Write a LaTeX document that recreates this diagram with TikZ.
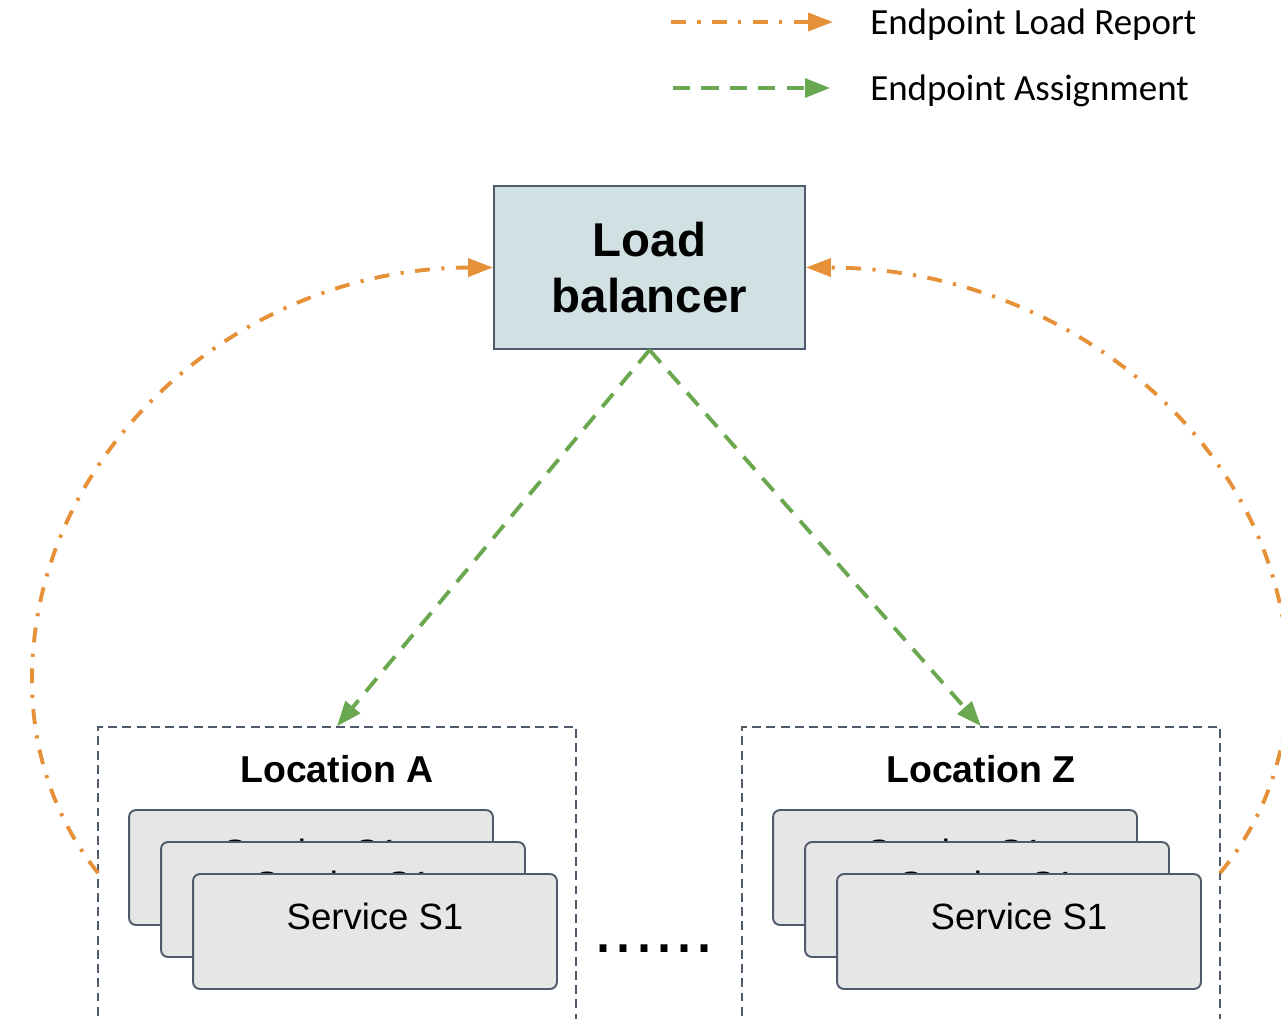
\documentclass[tikz,border=0pt]{standalone}
\usepackage{fontspec}
\setmainfont{Liberation Sans}
\newfontfamily\legendfont{Carlito}
\usetikzlibrary{arrows.meta}
\definecolor{lbOrange}{HTML}{E69138}
\definecolor{lbGreen}{HTML}{6AA84F}
\definecolor{lbFill}{HTML}{D0E0E3}
\definecolor{svcFill}{HTML}{E6E6E6}
\definecolor{edgeGray}{HTML}{4F5B6D}
\begin{document}
\begin{tikzpicture}[x=0.02cm,y=-0.02cm,
  report/.style={draw=lbOrange, line width=2.2pt,
    dash pattern=on 8.5pt off 6.5pt on 1.8pt off 6.5pt,
    -{Triangle[length=14.2pt,width=10.2pt]}},
  assign/.style={draw=lbGreen, line width=2.2pt,
    dash pattern=on 9.7pt off 6.5pt,
    -{Triangle[length=14.2pt,width=10.6pt]}},
  lbbox/.style={draw=edgeGray, line width=1.1pt, fill=lbFill,
    minimum width=6.22cm, minimum height=3.26cm, inner sep=0pt,
    align=center, font=\fontsize{27}{32.4}\selectfont\bfseries},
  locbox/.style={draw=edgeGray, line width=0.9pt,
    dash pattern=on 5.1pt off 3pt, minimum width=9.56cm,
    minimum height=6.6cm, inner sep=0pt},
  loctext/.style={font=\fontsize{21.3}{25}\selectfont\bfseries, inner sep=0pt},
  svcbox/.style={draw=edgeGray, line width=1.1pt, fill=svcFill,
    rounded corners=4pt, minimum width=7.28cm, minimum height=2.3cm, inner sep=0pt},
  svctext/.style={font=\fontsize{20.8}{24}\selectfont, inner sep=0pt, anchor=base},
  legtext/.style={font=\legendfont\fontsize{21}{25}\selectfont, inner sep=0pt, anchor=base west}
]
\useasboundingbox (0,0) rectangle (1281,1018);
\clip (0,0) rectangle (1281,1018);

% Legend
\coordinate (lo1) at (671,22);
\coordinate (lo2) at (833,22);
\coordinate (lg1) at (673,88);
\coordinate (lg2) at (830,88);
\draw[report] (lo1) -- (lo2);
\draw[assign] (lg1) -- (lg2);
\node[legtext] (legR) at (870,34) {Endpoint Load Report};
\node[legtext] (legA) at (870,100) {Endpoint Assignment};

% Location boxes
\node[locbox] (locA) at (337,892) {};
\node[locbox] (locZ) at (981,892) {};
\node[loctext, anchor=base] (locAt) at (337,782) {Location A};
\node[loctext, anchor=base] (locZt) at (981,782) {Location Z};

% Service stacks, Location A
\node[svcbox] (a1) at (311,867.5) {};
\node[svctext] (a1t) at ([yshift=-1.12cm]a1.north) {Service S1};
\node[svcbox] (a2) at (343,899.5) {};
\node[svctext] (a2t) at ([yshift=-1.12cm]a2.north) {Service S1};
\node[svcbox] (a3) at (375,931.5) {};
\node[svctext] (a3t) at ([yshift=-1.12cm]a3.north) {Service S1};

% Service stacks, Location Z
\node[svcbox] (z1) at (955,867.5) {};
\node[svctext] (z1t) at ([yshift=-1.12cm]z1.north) {Service S1};
\node[svcbox] (z2) at (987,899.5) {};
\node[svctext] (z2t) at ([yshift=-1.12cm]z2.north) {Service S1};
\node[svcbox] (z3) at (1019,931.5) {};
\node[svctext] (z3t) at ([yshift=-1.12cm]z3.north) {Service S1};

% dots
\node[font=\fontsize{41}{45}\selectfont, inner sep=0pt, anchor=base] (dots) at (654,952) {......};

% Load balancer
\node[lbbox] (lb) at (649.5,267.5) {Load\\balancer};

% Assignment arrows
\draw[assign] (lb.south) -- (locA.north);
\draw[assign] (lb.south) -- (locZ.north);

% Report arrows
\coordinate (la) at (98,873);
\coordinate (lz) at (1220,873);
\draw[report] (la) .. controls (52,815) and (32,747) .. (32,680)
  .. controls (32,452) and (239,268) .. (lb.west);
\draw[report] (lz) .. controls (1268,815) and (1288,747) .. (1288,680)
  .. controls (1288,452) and (1072,268) .. (lb.east);
\end{tikzpicture}
\end{document}
